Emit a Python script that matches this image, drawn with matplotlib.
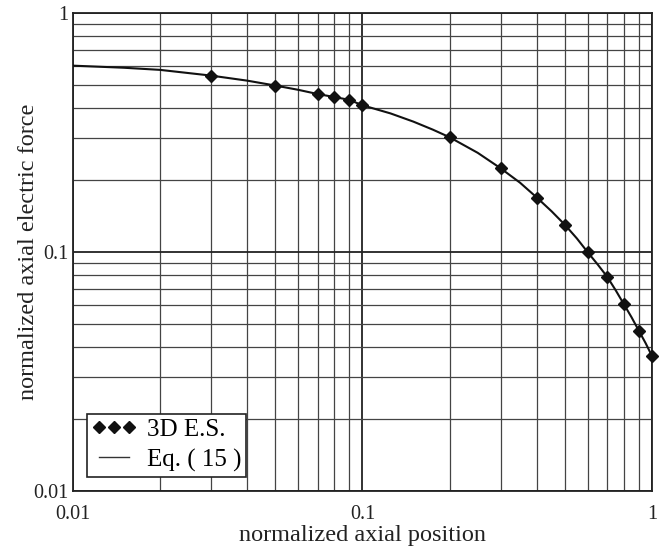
import matplotlib
matplotlib.use("Agg")
import matplotlib.pyplot as plt
from matplotlib.ticker import FixedLocator, FixedFormatter, LogLocator, NullFormatter
from matplotlib.lines import Line2D

# 3D E.S. data points
es_x = [0.03, 0.05, 0.07, 0.08, 0.09, 0.1, 0.2, 0.3, 0.4, 0.5, 0.6, 0.7, 0.8, 0.9, 1.0]
es_y = [0.547, 0.497, 0.458, 0.445, 0.433, 0.411, 0.302, 0.224, 0.169, 0.130, 0.0997, 0.0788, 0.0604, 0.0469, 0.0367]

# Eq. (15) curve
eq_x = [0.01, 0.015, 0.02, 0.03, 0.04, 0.05, 0.06, 0.07, 0.08, 0.09, 0.1, 0.125, 0.15, 0.175, 0.2,
        0.25, 0.3, 0.35, 0.4, 0.45, 0.5, 0.55, 0.6, 0.65, 0.7, 0.75, 0.8, 0.85, 0.9, 0.95, 1.0]
eq_y = [0.602, 0.590, 0.578, 0.547, 0.521, 0.497, 0.477, 0.458, 0.445, 0.433, 0.411, 0.380, 0.351, 0.325, 0.302,
        0.260, 0.224, 0.195, 0.169, 0.148, 0.130, 0.114, 0.0997, 0.0885, 0.0788, 0.0690, 0.0604, 0.0533, 0.0469, 0.0416, 0.0367]

tick_vals = [0.01, 0.1, 1]
tick_labels = ["0.01", "0.1", "1"]

plt.rcParams['font.family'] = ['Liberation Serif', 'DejaVu Serif']

fig = plt.figure(figsize=(6.69, 5.52), dpi=100)
ax = fig.add_axes([0.109, 0.1105, 0.8656, 0.866])

ax.set_xscale('log')
ax.set_yscale('log')
ax.set_xlim(0.01, 1)
ax.set_ylim(0.01, 1)

ax.xaxis.set_major_locator(FixedLocator(tick_vals))
ax.xaxis.set_major_formatter(FixedFormatter(tick_labels))
ax.yaxis.set_major_locator(FixedLocator(tick_vals))
ax.yaxis.set_major_formatter(FixedFormatter(tick_labels))
ax.xaxis.set_minor_locator(LogLocator(base=10, subs=range(2, 10)))
ax.yaxis.set_minor_locator(LogLocator(base=10, subs=range(2, 10)))
ax.xaxis.set_minor_formatter(NullFormatter())
ax.yaxis.set_minor_formatter(NullFormatter())

ax.grid(True, which='major', color='#222222', linewidth=1.3)
ax.grid(True, which='minor', color='#444444', linewidth=0.9)
ax.tick_params(which='both', length=0, labelsize=14.5, colors='#222222')
ax.tick_params(axis='x', pad=10)
ax.tick_params(axis='y', pad=3)
for s in ax.spines.values():
    s.set_color('#222222')
    s.set_linewidth(1.3)

ax.plot(eq_x, eq_y, color='#111111', linewidth=1.5, zorder=3)
ax.plot(es_x, es_y, linestyle='none', marker='D', markersize=6.5, color='#111111', zorder=4, clip_on=False)

ax.set_xlabel("normalized axial position", fontsize=17.5, color='#222222', labelpad=1)
ax.set_ylabel("normalized axial electric force", fontsize=17.5, color='#222222', labelpad=-4)

handles = [Line2D([], [], linestyle='none', marker='D', markersize=6, color='#111111'),
           Line2D([], [], color='#333333', linewidth=1.0)]
leg = ax.legend(handles, ["3D E.S.", "Eq. ( 15 )"], loc='lower left', bbox_to_anchor=(0.024, 0.03),
                numpoints=3, fontsize=18, frameon=True, fancybox=False, framealpha=1,
                edgecolor='#222222', borderpad=0.2, handlelength=1.8, handletextpad=0.4,
                labelspacing=0.3, borderaxespad=0)
leg.get_frame().set_linewidth(1.2)

fig.savefig("out.png", dpi=100)
